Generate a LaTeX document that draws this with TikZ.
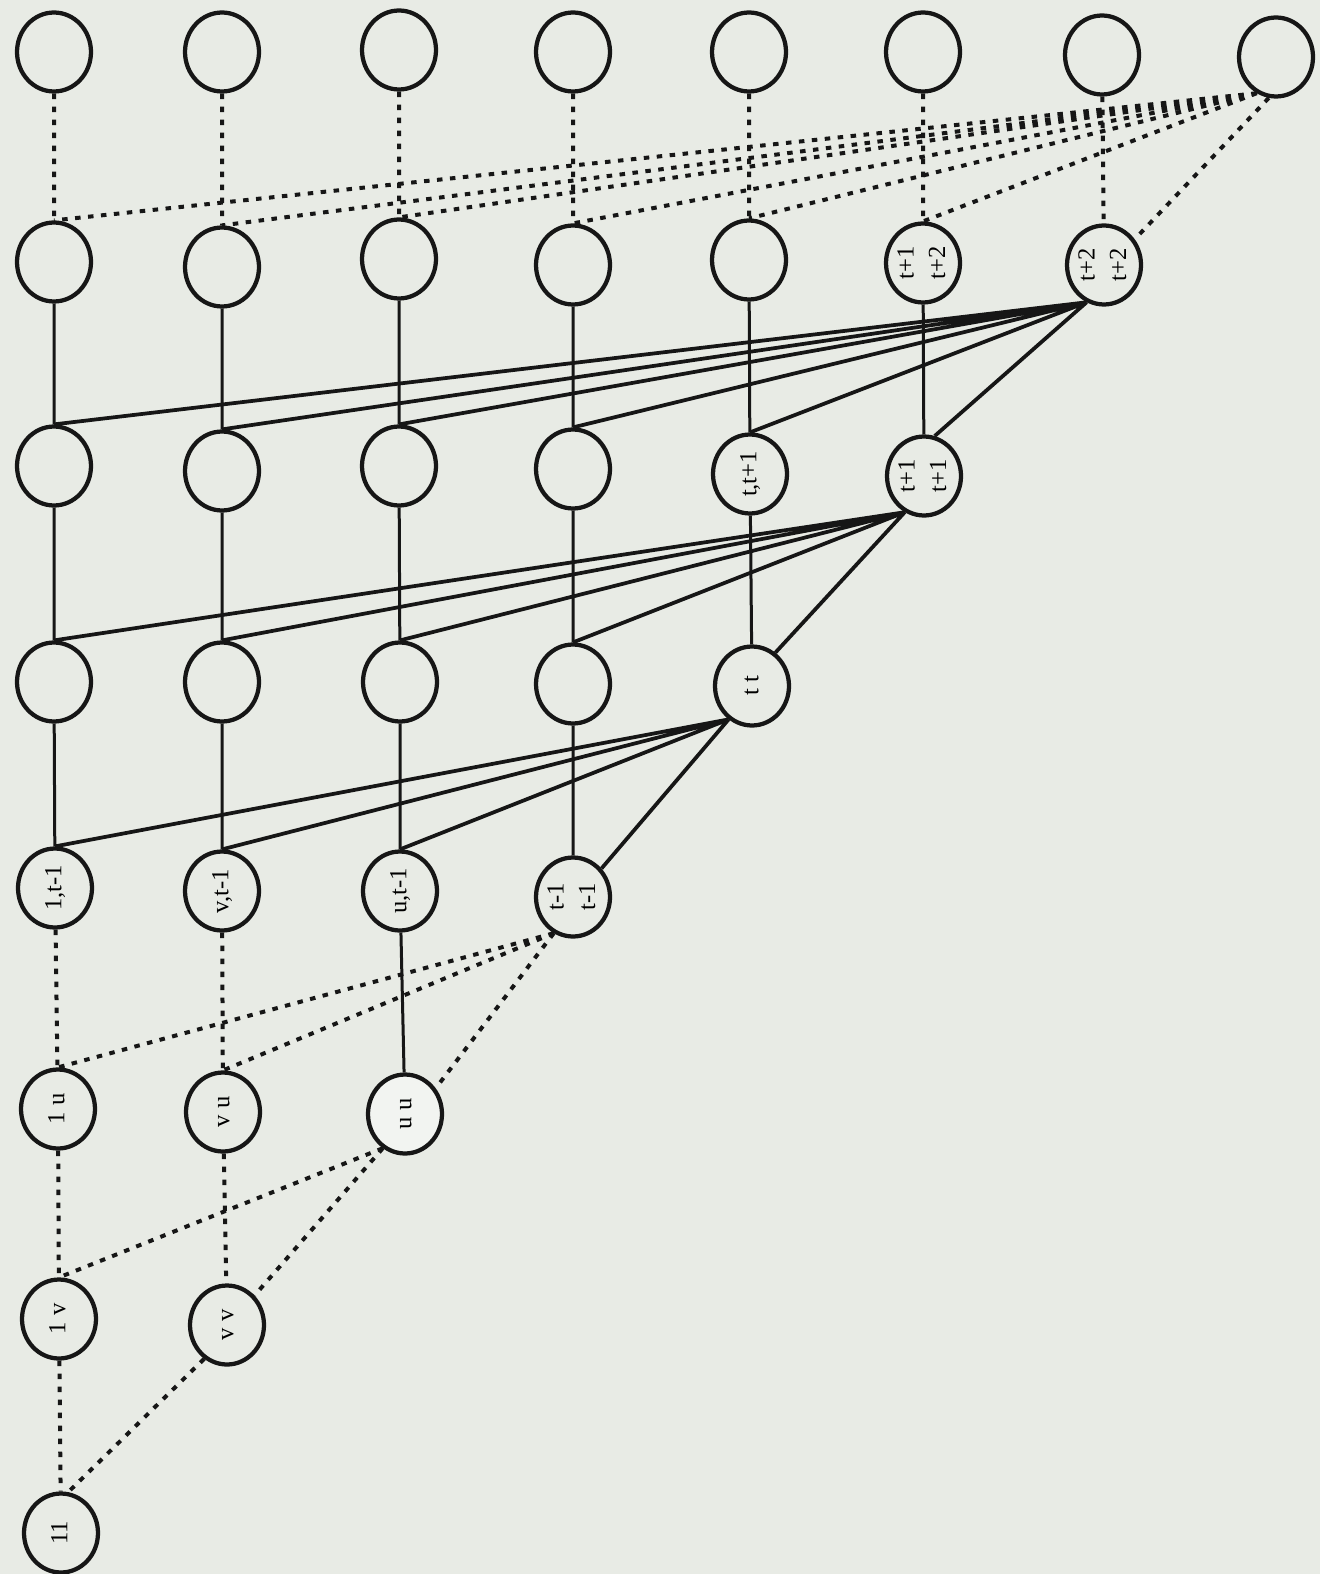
\documentclass[tikz,border=0pt]{standalone}
\usepackage{fontspec}
\setmainfont{Liberation Serif}
\usetikzlibrary{shapes.geometric}
\definecolor{paper}{RGB}{232,235,229}
\definecolor{ink}{RGB}{22,22,22}
\newcommand{\turned}[1]{\rotatebox{90}{\begin{tabular}{@{}c@{}}#1\end{tabular}}}

\begin{document}
\begin{tikzpicture}[
  x=0.02cm, y=-0.02cm,
  font=\fontsize{14}{18}\selectfont,
  ring/.style={draw=ink, ellipse, line width=0.085cm, inner sep=0pt,
               minimum width=1.48cm, minimum height=1.58cm},
  vline/.style={draw=ink, line width=0.06cm},
  solidline/.style={draw=ink, line width=0.075cm},
  dotline/.style={draw=ink, line width=0.08cm, dash pattern=on 0.11cm off 0.15cm}
]
  \fill[paper] (0,0) rectangle (1320,1574);
  \useasboundingbox (0,0) rectangle (1320,1574);

  % row a
  \node[ring] (a1) at (54,52) {};
  \node[ring] (a2) at (222,52) {};
  \node[ring] (a3) at (399,50) {};
  \node[ring] (a4) at (573,52) {};
  \node[ring] (a5) at (749,52) {};
  \node[ring] (a6) at (923,52) {};
  \node[ring] (a7) at (1102,55) {};
  \node[ring] (a8) at (1276,57) {};
  % row b
  \node[ring] (b1) at (54,262) {};
  \node[ring] (b2) at (222,267) {};
  \node[ring] (b3) at (399,259) {};
  \node[ring] (b4) at (573,265) {};
  \node[ring] (b5) at (749,260) {};
  \node[ring, label={center:\turned{t+1\\t+2}}] (b6) at (923,263) {};
  \node[ring, label={center:\turned{t+2\\t+2}}] (b7) at (1104,265) {};
  % row c
  \node[ring] (c1) at (54,466) {};
  \node[ring] (c2) at (222,471) {};
  \node[ring] (c3) at (399,466) {};
  \node[ring] (c4) at (573,469) {};
  \node[ring, label={center:\turned{t,t+1}}] (c5) at (750,474) {};
  \node[ring, label={center:\turned{t+1\\t+1}}] (c6) at (924,476) {};
  % row d
  \node[ring] (d1) at (54,682) {};
  \node[ring] (d2) at (222,682) {};
  \node[ring] (d3) at (400,682) {};
  \node[ring] (d4) at (573,684) {};
  \node[ring, label={center:\turned{t t}}] (d5) at (752,686) {};
  % row e
  \node[ring, label={center:\turned{1,t-1}}] (e1) at (55,888) {};
  \node[ring, label={center:\turned{v,t-1}}] (e2) at (222,891) {};
  \node[ring, label={center:\turned{u,t-1}}] (e3) at (400,891) {};
  \node[ring, label={center:\turned{t-1\\t-1}}] (e4) at (573,897) {};
  % row f
  \node[ring, label={center:\turned{1 u}}] (f1) at (58,1109) {};
  \node[ring, label={center:\turned{v u}}] (f2) at (223,1112) {};
  \node[ring, fill=white!45!paper, label={center:\turned{u u}}] (f3) at (405,1114) {};
  % row g
  \node[ring, label={center:\turned{1 v}}] (g1) at (59,1319) {};
  \node[ring, label={center:\turned{v v}}] (g2) at (227,1325) {};
  % row h
  \node[ring, label={center:\turned{11}}] (h1) at (61,1533) {};

  % a -> b
  \draw[dotline] (a1) -- (b1) (a2) -- (b2) (a3) -- (b3) (a4) -- (b4)
                 (a5) -- (b5) (a6) -- (b6) (a7) -- (b7);
  \draw[dotline] (a8.242) -- (b1.north) (a8.242) -- (b2.north)
                 (a8.242) -- (b3.north) (a8.242) -- (b4.north)
                 (a8.242) -- (b5.north) (a8.242) -- (b6.north)
                 (a8.260) -- (b7.40);
  % b -> c
  \draw[vline] (b1) -- (c1) (b2) -- (c2) (b3) -- (c3) (b4) -- (c4)
               (b5) -- (c5) (b6) -- (c6);
  \draw[solidline] (b7.245) -- (c1.north) (b7.245) -- (c2.north)
                   (b7.245) -- (c3.north) (b7.245) -- (c4.north)
                   (b7.245) -- (c5.north) (b7.245) -- (c6.75);
  % c -> d
  \draw[vline] (c1) -- (d1) (c2) -- (d2) (c3) -- (d3) (c4) -- (d4)
               (c5) -- (d5);
  \draw[solidline] (c6.242) -- (d1.north) (c6.242) -- (d2.north)
                   (c6.242) -- (d3.north) (c6.242) -- (d4.north)
                   (c6.242) -- (d5.55);
  % d -> e
  \draw[vline] (d1) -- (e1) (d2) -- (e2) (d3) -- (e3) (d4) -- (e4);
  \draw[solidline] (d5.235) -- (e1.north) (d5.235) -- (e2.north)
                   (d5.235) -- (e3.north) (d5.235) -- (e4.45);
  % e -> f
  \draw[dotline] (e1) -- (f1) (e2) -- (f2);
  \draw[vline] (e3) -- (f3);
  \draw[dotline] (e4.242) -- (f1.north) (e4.242) -- (f2.north)
                 (e4.242) -- (f3.40);
  % f -> g
  \draw[dotline] (f1) -- (g1) (f2) -- (g2);
  \draw[dotline] (f3.237) -- (g1.north) (f3.237) -- (g2.47);
  % g -> h
  \draw[dotline] (g1) -- (h1);
  \draw[dotline] (g2.236) -- (h1.80);
\end{tikzpicture}
\end{document}
